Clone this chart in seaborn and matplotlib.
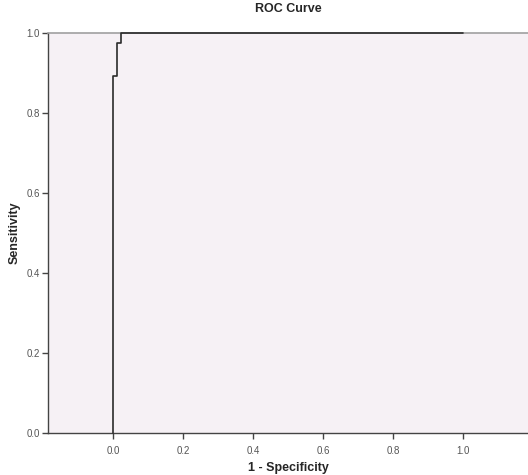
import matplotlib
matplotlib.use("Agg")
import matplotlib.pyplot as plt
import seaborn as sns
import pandas as pd

# ROC coordinates (step curve)
fpr = [0.0, 0.0, 0.012, 0.012, 0.024, 0.024, 1.0]
tpr = [0.0, 0.893, 0.893, 0.976, 0.976, 1.0, 1.0]
x_ticks = [0.0, 0.2, 0.4, 0.6, 0.8, 1.0]
y_ticks = [0.0, 0.2, 0.4, 0.6, 0.8, 1.0]

sns.set_style("ticks")
plt.rcParams['font.family'] = ['Liberation Sans', 'DejaVu Sans']

df = pd.DataFrame({"fpr": fpr, "tpr": tpr})

fig = plt.figure(figsize=(5.28, 4.75), dpi=100)
ax = fig.add_axes([48 / 528, 42 / 475, 480 / 528, 400 / 475])
ax.set_facecolor("#f6f1f5")

sns.lineplot(data=df, x="fpr", y="tpr", sort=False, estimator=None,
             color="#2b2b2b", linewidth=1.2, ax=ax)
# keep the top step fully visible over the frame
ax.lines[0].set_clip_on(False)
ax.lines[0].set_zorder(5)

ax.set_xlim(-0.186, 1.186)
ax.set_ylim(0, 1.0)
ax.set_xticks(x_ticks)
ax.set_yticks(y_ticks)
ax.set_xticklabels([f"{t:.1f}" for t in x_ticks])
ax.set_yticklabels([f"{t:.1f}" for t in y_ticks])

for side in ["left", "bottom"]:
    ax.spines[side].set_color("#444444")
    ax.spines[side].set_linewidth(1.0)
ax.spines["top"].set_color("#a0a0a0")
ax.spines["top"].set_linewidth(1.2)
ax.spines["right"].set_visible(False)

ax.tick_params(axis="both", direction="out", length=4, width=1.0,
               color="#444444", labelsize=7, labelcolor="#555555", pad=2)
ax.tick_params(axis="x", pad=5)

ax.set_xlabel("1 - Specificity", fontsize=9, fontweight="bold", labelpad=5)
ax.set_ylabel("Sensitivity", fontsize=9, fontweight="bold", labelpad=4)
ax.set_title("ROC Curve", fontsize=9, fontweight="bold", pad=15)

fig.savefig("out.png", dpi=100)
